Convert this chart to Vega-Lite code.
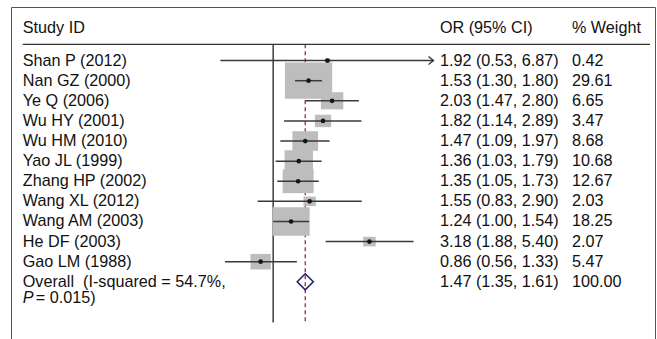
{
  "$schema": "https://vega.github.io/schema/vega-lite/v6.json",
  "autosize": {"type": "none"},
  "padding": {"left": 11, "top": 7, "right": 2, "bottom": 0},
  "width": 644,
  "height": 332,
  "background": "white",
  "config": {
    "view": {"stroke": "#555555", "strokeWidth": 1},
    "text": {"font": "Liberation Sans", "fontSize": 16.2, "color": "#111111", "align": "left", "baseline": "middle"}
  },
  "datasets": {
    "rows": [
      {"kind": "header", "row": -0.64, "study": "Study ID", "ci": "OR (95% CI)", "weight": "% Weight"},
      {"kind": "study", "row": 1, "study": "Shan P (2012)", "or": 1.92, "lo": 0.53, "hi": 6.87, "w": 0.42, "ci": "1.92 (0.53, 6.87)", "weight": "0.42", "arrow": true},
      {"kind": "study", "row": 2, "study": "Nan GZ (2000)", "or": 1.53, "lo": 1.30, "hi": 1.80, "w": 29.61, "ci": "1.53 (1.30, 1.80)", "weight": "29.61", "arrow": false},
      {"kind": "study", "row": 3, "study": "Ye Q (2006)", "or": 2.03, "lo": 1.47, "hi": 2.80, "w": 6.65, "ci": "2.03 (1.47, 2.80)", "weight": "6.65", "arrow": false},
      {"kind": "study", "row": 4, "study": "Wu HY (2001)", "or": 1.82, "lo": 1.14, "hi": 2.89, "w": 3.47, "ci": "1.82 (1.14, 2.89)", "weight": "3.47", "arrow": false},
      {"kind": "study", "row": 5, "study": "Wu HM (2010)", "or": 1.47, "lo": 1.09, "hi": 1.97, "w": 8.68, "ci": "1.47 (1.09, 1.97)", "weight": "8.68", "arrow": false},
      {"kind": "study", "row": 6, "study": "Yao JL (1999)", "or": 1.36, "lo": 1.03, "hi": 1.79, "w": 10.68, "ci": "1.36 (1.03, 1.79)", "weight": "10.68", "arrow": false},
      {"kind": "study", "row": 7, "study": "Zhang HP (2002)", "or": 1.35, "lo": 1.05, "hi": 1.73, "w": 12.67, "ci": "1.35 (1.05, 1.73)", "weight": "12.67", "arrow": false},
      {"kind": "study", "row": 8, "study": "Wang XL (2012)", "or": 1.55, "lo": 0.83, "hi": 2.90, "w": 2.03, "ci": "1.55 (0.83, 2.90)", "weight": "2.03", "arrow": false},
      {"kind": "study", "row": 9, "study": "Wang AM (2003)", "or": 1.24, "lo": 1.00, "hi": 1.54, "w": 18.25, "ci": "1.24 (1.00, 1.54)", "weight": "18.25", "arrow": false},
      {"kind": "study", "row": 10, "study": "He DF (2003)", "or": 3.18, "lo": 1.88, "hi": 5.40, "w": 2.07, "ci": "3.18 (1.88, 5.40)", "weight": "2.07", "arrow": false},
      {"kind": "study", "row": 11, "study": "Gao LM (1988)", "or": 0.86, "lo": 0.56, "hi": 1.33, "w": 5.47, "ci": "0.86 (0.56, 1.33)", "weight": "5.47", "arrow": false},
      {"kind": "overall", "row": 12, "study": "Overall\u00a0 (I-squared = 54.7%,", "or": 1.47, "lo": 1.35, "hi": 1.61, "w": 100.00, "ci": "1.47 (1.35, 1.61)", "weight": "100.00", "arrow": false}
    ]
  },
  "layer": [
    {
      "data": {"name": "rows"},
      "transform": [{"filter": "datum.kind === 'overall'"}],
      "mark": {"type": "rule", "color": "#9e2a3a", "strokeWidth": 1.3, "strokeDash": [4, 3]},
      "encoding": {
        "x": {"field": "or", "type": "quantitative", "scale": {"type": "log", "domain": [0.0428, 98.4], "nice": false}, "axis": null},
        "y": {"datum": 0.19, "type": "quantitative", "scale": {"domain": [-1.665, 14.844], "reverse": true, "nice": false, "zero": false}, "axis": null},
        "y2": {"datum": 14.02}
      }
    },
    {
      "data": {"values": [{}]},
      "mark": {"type": "rule", "color": "#4a4a4a", "strokeWidth": 1.6},
      "encoding": {
        "x": {"datum": 1, "type": "quantitative"},
        "y": {"datum": 0.19, "type": "quantitative"},
        "y2": {"datum": 14.02}
      }
    },
    {
      "data": {"values": [{}]},
      "mark": {"type": "rule", "color": "#333333", "strokeWidth": 1.3},
      "encoding": {
        "x": {"datum": 0.0493, "type": "quantitative"},
        "x2": {"datum": 92.66},
        "y": {"datum": 0.19, "type": "quantitative"}
      }
    },
    {
      "data": {"name": "rows"},
      "transform": [{"filter": "datum.kind === 'study'"}],
      "mark": {"type": "point", "filled": true, "opacity": 1, "color": "#bdbdbd", "shape": "M-1,-0.767L1,-0.767L1,0.767L-1,0.767Z", "strokeWidth": 0},
      "encoding": {
        "x": {"field": "or", "type": "quantitative"},
        "y": {"field": "row", "type": "quantitative"},
        "size": {"field": "w", "type": "quantitative", "scale": {"type": "linear", "domain": [0, 29.61], "range": [0, 2237], "zero": true}, "legend": null}
      }
    },
    {
      "data": {"name": "rows"},
      "transform": [{"filter": "datum.kind === 'study'"}],
      "mark": {"type": "rule", "color": "#3a3a3a", "strokeWidth": 1.5},
      "encoding": {
        "x": {"field": "lo", "type": "quantitative"},
        "x2": {"field": "hi"},
        "y": {"field": "row", "type": "quantitative"}
      }
    },
    {
      "data": {"name": "rows"},
      "transform": [{"filter": "datum.kind === 'study'"}],
      "mark": {"type": "point", "filled": true, "opacity": 1, "color": "#151515", "shape": "circle", "size": 22},
      "encoding": {
        "x": {"field": "or", "type": "quantitative"},
        "y": {"field": "row", "type": "quantitative"}
      }
    },
    {
      "data": {"name": "rows"},
      "transform": [{"filter": "datum.arrow === true"}],
      "mark": {"type": "point", "filled": false, "opacity": 1, "color": "#333333", "strokeWidth": 1.3, "shape": "M-1,-0.8L0,0L-1,0.8", "size": 100},
      "encoding": {
        "x": {"field": "hi", "type": "quantitative"},
        "y": {"field": "row", "type": "quantitative"}
      }
    },
    {
      "data": {"name": "rows"},
      "transform": [{"filter": "datum.kind === 'overall'"}],
      "mark": {"type": "point", "filled": false, "opacity": 1, "color": "#23236e", "strokeWidth": 1.6, "shape": "diamond", "size": 256},
      "encoding": {
        "x": {"field": "or", "type": "quantitative"},
        "y": {"field": "row", "type": "quantitative"}
      }
    },
    {
      "data": {"name": "rows"},
      "mark": {"type": "text"},
      "encoding": {
        "x": {"datum": 0.0493, "type": "quantitative"},
        "y": {"field": "row", "type": "quantitative"},
        "text": {"field": "study"}
      }
    },
    {
      "data": {"name": "rows"},
      "mark": {"type": "text"},
      "encoding": {
        "x": {"datum": 7.42, "type": "quantitative"},
        "y": {"field": "row", "type": "quantitative"},
        "text": {"field": "ci"}
      }
    },
    {
      "data": {"name": "rows"},
      "mark": {"type": "text"},
      "encoding": {
        "x": {"datum": 36.28, "type": "quantitative"},
        "y": {"field": "row", "type": "quantitative"},
        "text": {"field": "weight"}
      }
    },
    {
      "data": {"values": [{"row": 12.83, "txt": "P"}]},
      "mark": {"type": "text", "fontStyle": "italic"},
      "encoding": {
        "x": {"datum": 0.0493, "type": "quantitative"},
        "y": {"field": "row", "type": "quantitative"},
        "text": {"field": "txt"}
      }
    },
    {
      "data": {"values": [{"row": 12.83, "txt": "= 0.015)"}]},
      "mark": {"type": "text", "dx": 13},
      "encoding": {
        "x": {"datum": 0.0493, "type": "quantitative"},
        "y": {"field": "row", "type": "quantitative"},
        "text": {"field": "txt"}
      }
    }
  ]
}
